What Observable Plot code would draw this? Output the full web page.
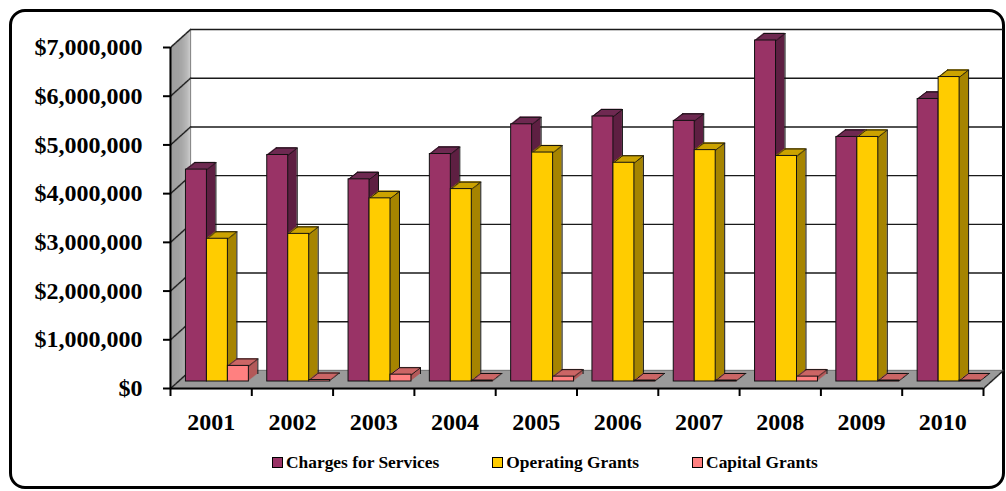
<!DOCTYPE html>
<html>
<head>
<meta charset="utf-8">
<script src="https://cdn.jsdelivr.net/npm/d3@7"></script>
<script src="https://cdn.jsdelivr.net/npm/@observablehq/plot@0.6"></script>
<style>
  html, body { margin: 0; padding: 0; background: #fff; width: 1006px; height: 491px; overflow: hidden; }
  #card { position: absolute; left: 9px; top: 9px; width: 996px; height: 480px; box-sizing: border-box;
          border: 3px solid #000; border-radius: 16px; }
  #chart { position: absolute; left: 0; top: 0; }
  #legend { position: absolute; left: 272px; top: 452px; display: flex; align-items: center;
            font-family: 'Liberation Serif', 'Times New Roman', serif; font-weight: bold; font-size: 17.4px; color: #000; white-space: nowrap; }
  .item { display: flex; align-items: center; margin-right: 53px; }
  .sw { width: 9px; height: 9px; border: 1px solid #000; margin-right: 3px; }
</style>
</head>
<body>
<div id="card"></div>
<div id="chart"></div>
<div id="legend"></div>
<script>
// ---- data ----
const years = [2001, 2002, 2003, 2004, 2005, 2006, 2007, 2008, 2009, 2010];
const seriesNames = ["Charges for Services", "Operating Grants", "Capital Grants"];
const charges   = [4350000, 4650000, 4150000, 4670000, 5280000, 5440000, 5350000, 7000000, 5020000, 5800000];
const operating = [2930000, 3030000, 3760000, 3950000, 4700000, 4490000, 4750000, 4630000, 5020000, 6250000];
const capital   = [320000, 30000, 140000, 20000, 100000, 20000, 20000, 100000, 20000, 20000];
const yTicks = [0, 1000000, 2000000, 3000000, 4000000, 5000000, 6000000, 7000000];

// ---- styles ----
const fronts = ["#993366", "#FFCC00", "#FF8080"];
const sides  = ["#5E1F42", "#A68400", "#B35959"];
const tops   = ["#6F2A52", "#CCA300", "#CC6666"];

const valuesBySeries = [charges, operating, capital];
const rows = [];
seriesNames.forEach((s, j) => years.forEach((y, i) => rows.push({year: y, series: s, j, value: valuesBySeries[j][i]})));

const xMin = years[0] - 0.5, xMax = years[years.length - 1] + 0.5;
const boundaries = years.map(y => y - 0.5).concat([xMax]);

// room depth (pixels) and bar depth
const RX = 20, RY = -18;
const BX = 9, BY = -7, BASE = -7;
const G0 = -0.31, BW = 0.258;

const marks = [];
// left wall
for (let k = 0; k <= RX; k++) {
  const c = d3.interpolateRgb("#a0a0a0", "#cccccc")(Math.pow(k / RX, 3));
  marks.push(Plot.ruleX([xMin], {x: d => d, y1: 0, y2: 7000000, dx: k, dy: k * RY / RX, stroke: c, strokeWidth: 1.6}));
}
// floor
for (let k = 0; k <= RX; k++) {
  marks.push(Plot.ruleY([0], {dx: k, dy: k * RY / RX, stroke: "#9a9a9a", strokeWidth: 1.6}));
}
// back wall gridlines and edge
marks.push(Plot.ruleY(yTicks.slice(1), {dx: RX, dy: RY, stroke: "#1a1a1a", strokeWidth: 1.4}));
marks.push(Plot.ruleY([0], {dx: RX, dy: RY, stroke: "#7a7a7a", strokeWidth: 1}));
marks.push(Plot.ruleX([xMin], {x: d => d, y1: 0, y2: 7000000, dx: RX, dy: RY, stroke: "#8a8a8a", strokeWidth: 1}));
// diagonals on the wall and floor corner
const diag = yTicks.map(v => ({x: xMin, y: v})).concat([{x: xMax, y: 0}]);
for (let k = 0; k <= RX; k++) {
  marks.push(Plot.dot(diag, {x: "x", y: "y", r: 0.85, fill: "#222", stroke: null, dx: k, dy: k * RY / RX}));
}
// axis lines
marks.push(Plot.ruleY([0], {stroke: "#000", strokeWidth: 2}));
marks.push(Plot.ruleX([xMin], {x: d => d, y1: 0, y2: 7000000, stroke: "#000", strokeWidth: 2}));

// bars
seriesNames.forEach((s, j) => {
  const data = rows.filter(d => d.j === j);
  const x1 = d => d.year + G0 + d.j * BW;
  const x2 = d => d.year + G0 + (d.j + 1) * BW;
  for (let k = 1; k <= BX; k++) {
    marks.push(Plot.rectY(data, {x1, x2, y: "value", dx: k, dy: BASE + k * BY / BX, fill: sides[j]}));
  }
  for (let k = 0; k <= BX; k++) {
    marks.push(Plot.ruleY(data, {y: "value", x1, x2, dx: k, dy: BASE + k * BY / BX, stroke: tops[j], strokeWidth: 1.5}));
  }
  // edges
  for (let k = 0; k <= BX; k++) {
    marks.push(Plot.dot(data, {x: x1, y: "value", r: 0.55, fill: "#111", stroke: null, dx: k, dy: BASE + k * BY / BX}));
    marks.push(Plot.dot(data, {x: x2, y: "value", r: 0.55, fill: "#111", stroke: null, dx: k, dy: BASE + k * BY / BX}));
  }
  marks.push(Plot.ruleY(data, {y: "value", x1, x2, dx: BX, dy: BASE + BY, stroke: "#111", strokeWidth: 1}));
  marks.push(Plot.ruleX(data, {x: x2, y1: 0, y2: "value", dx: BX, dy: BASE + BY, stroke: "#111", strokeWidth: 1}));
  marks.push(Plot.rectY(data, {x1, x2, y: "value", dy: BASE, fill: fronts[j], stroke: "#111", strokeWidth: 1}));
});

// axes
const fmt = v => "$" + d3.format(",")(v);
marks.push(Plot.axisY({ticks: yTicks, tickSize: 7, tickPadding: 21, tickFormat: fmt, strokeWidth: 2, label: null}));
marks.push(Plot.axisX({ticks: boundaries, tickSize: 8, tickFormat: () => "", strokeWidth: 2, label: null}));
marks.push(Plot.axisX({ticks: years, tickSize: 0, tickPadding: 24, tickFormat: d => String(d), label: null}));

const chart = Plot.plot({
  width: 1006,
  height: 445,
  marginLeft: 170,
  marginRight: 23,
  marginTop: 47,
  marginBottom: 57,
  x: {type: "linear", domain: [xMin, xMax], label: null},
  y: {domain: [0, 7000000], label: null},
  style: {fontFamily: "'Liberation Serif', 'Times New Roman', serif", fontSize: "24px", fontWeight: "bold", color: "#000", background: "transparent", overflow: "visible"},
  marks
});
document.getElementById("chart").appendChild(chart);

// legend
const legend = document.getElementById("legend");
seriesNames.forEach((s, j) => {
  const it = document.createElement("div");
  it.className = "item";
  const sw = document.createElement("div");
  sw.className = "sw";
  sw.style.background = fronts[j];
  const t = document.createElement("span");
  t.textContent = s;
  it.appendChild(sw); it.appendChild(t);
  legend.appendChild(it);
});
</script>
</body>
</html>
